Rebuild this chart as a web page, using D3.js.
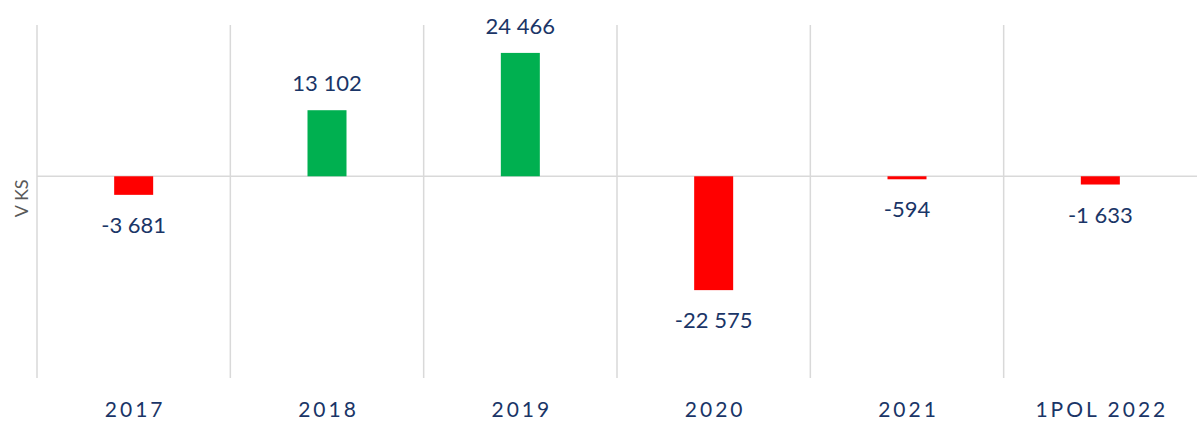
<!DOCTYPE html>
<html>
<head>
<meta charset="utf-8">
<script src="https://cdn.jsdelivr.net/npm/d3@7"></script>
<style>
  body { margin: 0; background: #fff; }
  text { font-family: Lato, "Open Sans", sans-serif; }
</style>
</head>
<body>
<div id="chart"></div>
<script>
const categories = ["2017", "2018", "2019", "2020", "2021", "1POL 2022"];
const values = [-3681, 13102, 24466, -22575, -594, -1633];
const yDomain = [-40000, 30000];
const yTitle = "V KS";

const width = 1197, height = 423;
const margin = { top: 25, right: 0, bottom: 45, left: 37 };

const svg = d3.select("#chart").append("svg")
  .attr("width", width)
  .attr("height", height);

const x = d3.scaleBand()
  .domain(categories)
  .range([margin.left, width - margin.right])
  .paddingInner(0)
  .paddingOuter(0);

const y = d3.scaleLinear()
  .domain(yDomain)
  .range([height - margin.bottom, margin.top]);

const grid = "#d9d9d9";
const textColor = "#1a3567";

/* vertical gridlines between categories */
svg.append("g")
  .selectAll("line")
  .data(categories)
  .join("line")
  .attr("x1", d => x(d))
  .attr("x2", d => x(d))
  .attr("y1", y(yDomain[1]))
  .attr("y2", y(yDomain[0]))
  .attr("stroke", grid)
  .attr("stroke-width", 1.5);

/* zero line */
svg.append("line")
  .attr("x1", margin.left)
  .attr("x2", width)
  .attr("y1", y(0))
  .attr("y2", y(0))
  .attr("stroke", grid)
  .attr("stroke-width", 1.5);

const barW = 39;

svg.append("g")
  .selectAll("rect")
  .data(values)
  .join("rect")
  .attr("x", (d, i) => x(categories[i]) + x.bandwidth() / 2 - barW / 2)
  .attr("y", d => y(Math.max(0, d)))
  .attr("width", barW)
  .attr("height", d => Math.abs(y(d) - y(0)))
  .attr("fill", d => d >= 0 ? "#00b050" : "#ff0000");

const fmt = v => (v < 0 ? "-" : "") + d3.format(",")(Math.abs(v)).replace(/,/g, " ");

svg.append("g")
  .selectAll("text")
  .data(values)
  .join("text")
  .attr("x", (d, i) => x(categories[i]) + x.bandwidth() / 2)
  .attr("y", d => d >= 0 ? y(d) - 19 : y(d) + 38)
  .attr("text-anchor", "middle")
  .attr("font-size", 22)
  .attr("fill", textColor)
  .text(d => fmt(d));

/* category labels */
svg.append("g")
  .selectAll("text")
  .data(categories)
  .join("text")
  .attr("x", d => x(d) + x.bandwidth() / 2 + 1.5)
  .attr("y", 417)
  .attr("text-anchor", "middle")
  .attr("font-size", 21)
  .attr("letter-spacing", 3)
  .attr("fill", textColor)
  .text(d => d);

/* y axis title */
svg.append("text")
  .attr("transform", `translate(28, ${y(0) + 22}) rotate(-90)`)
  .attr("text-anchor", "middle")
  .attr("font-size", 18)
  .attr("fill", "#595959")
  .text(yTitle);
</script>
</body>
</html>
